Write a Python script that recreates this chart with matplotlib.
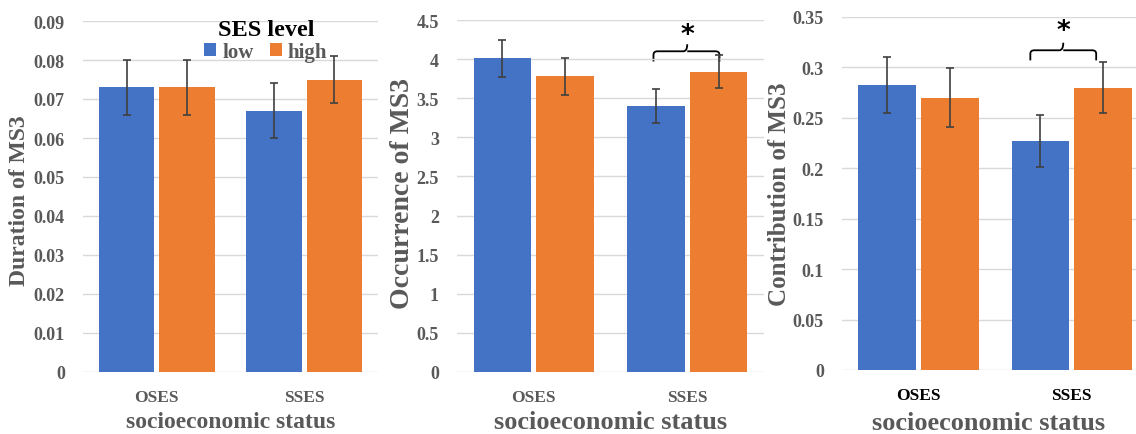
import matplotlib.pyplot as plt
import numpy as np
from matplotlib.path import Path
from matplotlib.patches import PathPatch

plt.rcParams['font.family'] = ['Liberation Serif', 'DejaVu Serif']
plt.rcParams['font.weight'] = 'bold'

groups = ['OSES', 'SSES']
levels = ['low', 'high']
colors = ['#4472C4', '#ED7D31']
grey = '#595959'

# duration of MS3
dur_low = [0.073, 0.067]
dur_low_err = [0.007, 0.007]
dur_high = [0.073, 0.075]
dur_high_err = [0.007, 0.006]

# occurrence of MS3
occ_low = [4.01, 3.40]
occ_low_err = [0.24, 0.22]
occ_high = [3.78, 3.84]
occ_high_err = [0.24, 0.21]

# contribution of MS3
con_low = [0.2825, 0.227]
con_low_err = [0.028, 0.026]
con_high = [0.270, 0.280]
con_high_err = [0.029, 0.025]

W, H = 1136, 435
fig = plt.figure(figsize=(W / 100, H / 100), dpi=100)


def px_axes(left, right, bottom, top):
    return fig.add_axes([left / W, 1 - bottom / H, (right - left) / W, (bottom - top) / H])


def brace(ax, x1, x2, xm, ylow, yline, ytip):
    r = (x2 - x1) * 0.06
    dy = (yline - ylow) * 0.35
    verts = [(x1, ylow), (x1, yline - dy), (x1, yline), (x1 + r, yline),
             (xm - r, yline), (xm, yline), (xm, ytip),
             (xm, yline), (xm + r, yline),
             (x2 - r, yline), (x2, yline), (x2, yline - dy), (x2, ylow)]
    codes = [Path.MOVETO, Path.LINETO, Path.CURVE3, Path.CURVE3,
             Path.LINETO, Path.CURVE3, Path.CURVE3,
             Path.MOVETO, Path.CURVE3,
             Path.LINETO, Path.CURVE3, Path.CURVE3, Path.LINETO]
    ax.add_patch(PathPatch(Path(verts, codes), fill=False, lw=1.3, color='black'))


def panel(ax, low, low_err, high, high_err, ymax, ystep, ylabel, ylab_size, xlim,
          tickcolor=grey, xlab_size=17):
    x = np.arange(len(groups))
    off, w = 0.205, 0.375
    ax.bar(x - off, low, w, color=colors[0], label=levels[0], zorder=2)
    ax.bar(x + off, high, w, color=colors[1], label=levels[1], zorder=2)
    ax.errorbar(x - off, low, yerr=low_err, fmt='none', ecolor='#404040',
                elinewidth=1.2, capsize=3, capthick=1.2, zorder=3)
    ax.errorbar(x + off, high, yerr=high_err, fmt='none', ecolor='#404040',
                elinewidth=1.2, capsize=3, capthick=1.2, zorder=3)
    ax.set_ylim(0, ymax)
    ax.set_xlim(*xlim)
    ticks = np.arange(0, ymax + ystep / 2, ystep)
    ax.set_yticks(ticks)
    ax.set_yticklabels([('%.2f' % t).rstrip('0').rstrip('.') for t in ticks],
                       color=grey, fontsize=13, fontweight='bold')
    ax.set_xticks(x)
    ax.set_xticklabels(groups, color=tickcolor, fontsize=12.5, fontweight='bold')
    ax.tick_params(length=0, axis='y', pad=13)
    ax.tick_params(length=0, axis='x', pad=12)
    ax.grid(axis='y', color='#d9d9d9', lw=1, zorder=0)
    for s in ax.spines.values():
        s.set_visible(False)
    ax.set_ylabel(ylabel, color=grey, fontsize=ylab_size, fontweight='bold', va='center')
    ax.set_xlabel('socioeconomic status', color=grey, fontsize=xlab_size,
                  fontweight='bold', va='center')


ax1 = px_axes(83, 378, 373, 22)
panel(ax1, dur_low, dur_low_err, dur_high, dur_high_err, 0.09, 0.01,
      'Duration of MS3', 17, (-0.5, 1.5))
ax1.yaxis.set_label_coords(-0.214, 0.49)
ax1.xaxis.set_label_coords(0.5, -50 / 351)
leg = ax1.legend(title='SES level', loc='upper center', bbox_to_anchor=(0.62, 1.04),
                 ncol=2, frameon=False, handlelength=0.55, handleheight=0.55,
                 handletextpad=0.3, columnspacing=0.8, borderpad=0.1, labelspacing=0.1,
                 prop={'size': 15, 'weight': 'bold'})
leg.get_title().set_fontsize(17.5)
leg.get_title().set_fontweight('bold')
leg._legend_box.sep = 1
for t in leg.get_texts():
    t.set_color(grey)

ax2 = px_axes(457, 764, 373, 21)
panel(ax2, occ_low, occ_low_err, occ_high, occ_high_err, 4.5, 0.5,
      'Occurrence of MS3', 20, (-0.5, 1.5), xlab_size=19)
ax2.yaxis.set_label_coords(-0.179, 0.51)
ax2.xaxis.set_label_coords(0.5, -50 / 352)
brace(ax2, 0.78, 1.21, 1.0, 3.97, 4.10, 4.19)
ax2.text(1.0, 4.31, '*', ha='center', va='center', fontsize=19, fontweight='bold',
         family='DejaVu Sans')

ax3 = px_axes(842, 1136, 371, 18)
panel(ax3, con_low, con_low_err, con_high, con_high_err, 0.35, 0.05,
      'Contribution of MS3', 18, (-0.5, 1.42), tickcolor='black', xlab_size=19)
ax3.yaxis.set_label_coords(-0.211, 0.5)
ax3.xaxis.set_label_coords(0.5, -53 / 353)
brace(ax3, 0.73, 1.16, 0.945, 0.307, 0.317, 0.3245)
ax3.text(0.945, 0.336, '*', ha='center', va='center', fontsize=19, fontweight='bold',
         family='DejaVu Sans')

fig.savefig('out.png', dpi=100)
